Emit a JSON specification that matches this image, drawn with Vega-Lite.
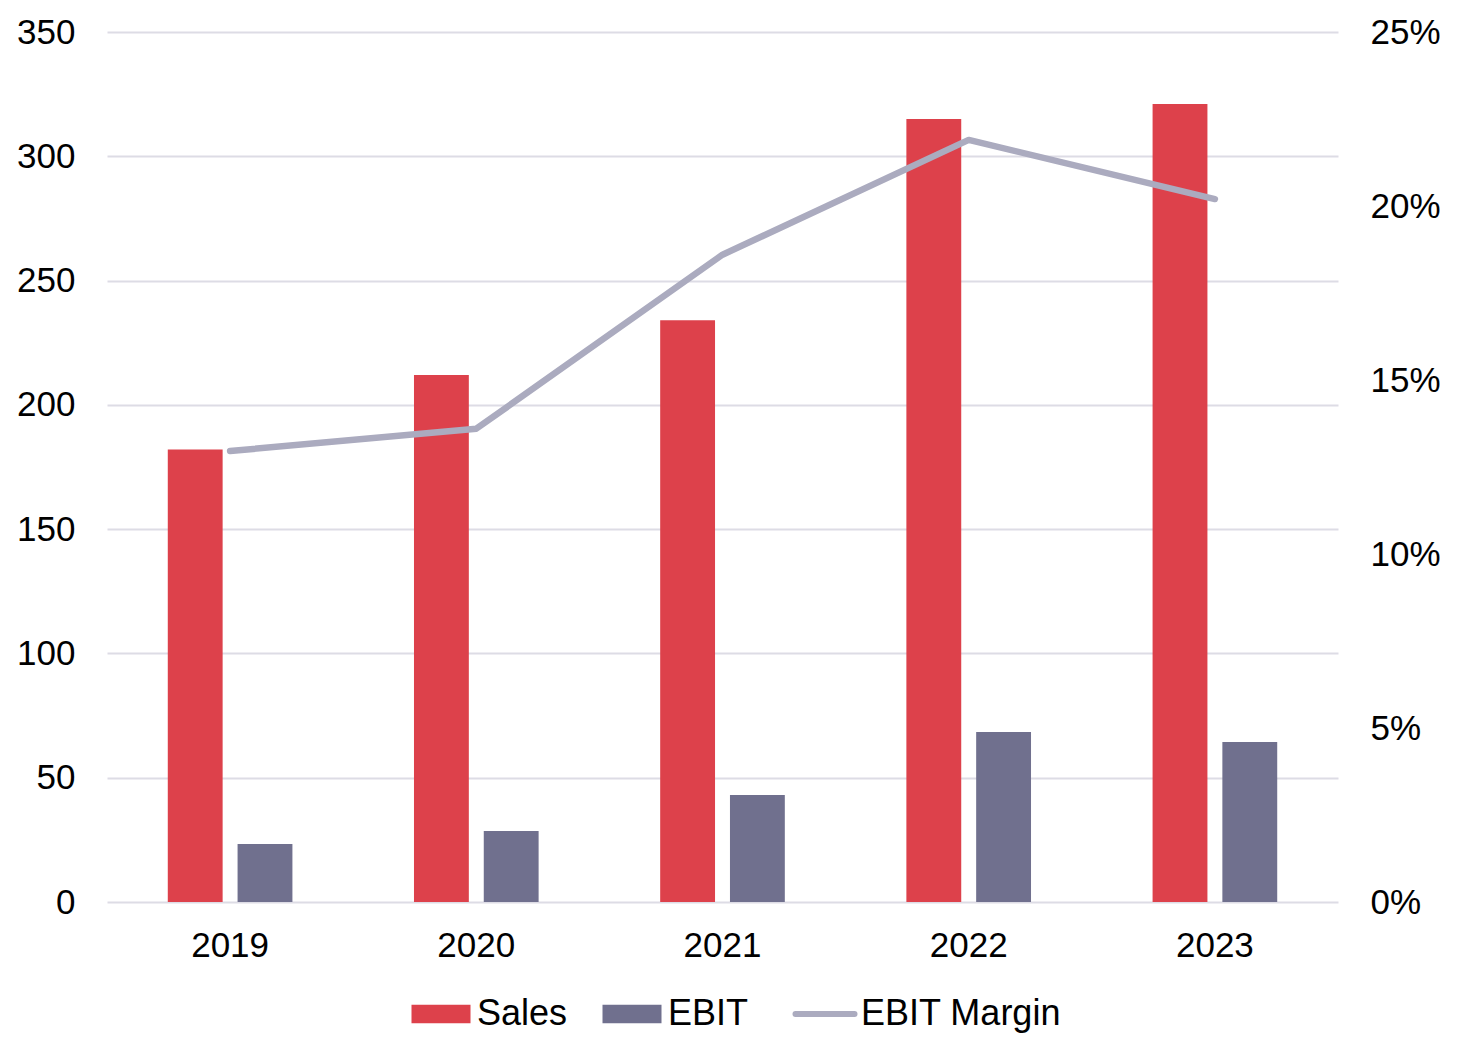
{
  "$schema": "https://vega.github.io/schema/vega-lite/v6.json",
  "autosize": {"type": "none"},
  "width": 1231,
  "height": 870,
  "padding": {"left": 107, "top": 32, "right": 120, "bottom": 157},
  "background": "white",
  "config": {
    "view": {"stroke": null},
    "font": "Liberation Sans",
    "axis": {"labelFont": "Liberation Sans", "labelFontSize": 35, "labelColor": "#000000", "domain": false, "ticks": false, "title": null},
    "legend": {"labelFont": "Liberation Sans", "labelFontSize": 36, "labelColor": "#000000", "labelLimit": 400}
  },
  "data": {
    "values": [
      {"year": "2019", "measure": "Sales", "value": 182},
      {"year": "2020", "measure": "Sales", "value": 212},
      {"year": "2021", "measure": "Sales", "value": 234},
      {"year": "2022", "measure": "Sales", "value": 315},
      {"year": "2023", "measure": "Sales", "value": 321},
      {"year": "2019", "measure": "EBIT", "value": 23.3},
      {"year": "2020", "measure": "EBIT", "value": 28.6},
      {"year": "2021", "measure": "EBIT", "value": 43.0},
      {"year": "2022", "measure": "EBIT", "value": 68.4},
      {"year": "2023", "measure": "EBIT", "value": 64.4},
      {"year": "2019", "measure": "EBIT Margin", "value": 0.1296},
      {"year": "2020", "measure": "EBIT Margin", "value": 0.136},
      {"year": "2021", "measure": "EBIT Margin", "value": 0.186},
      {"year": "2022", "measure": "EBIT Margin", "value": 0.219},
      {"year": "2023", "measure": "EBIT Margin", "value": 0.202}
    ]
  },
  "encoding": {
    "x": {
      "field": "year",
      "type": "nominal",
      "scale": {"paddingInner": 0, "paddingOuter": 0},
      "axis": {"labelAngle": 0, "labelPadding": 26, "grid": false}
    }
  },
  "layer": [
    {
      "transform": [{"filter": "datum.measure !== 'EBIT Margin'"}],
      "mark": {"type": "bar"},
      "encoding": {
        "xOffset": {"field": "measure", "type": "nominal", "sort": ["Sales", "EBIT"], "scale": {"domain": ["Sales", "EBIT"], "paddingInner": 0.214, "paddingOuter": 0.871}},
        "y": {
          "field": "value",
          "type": "quantitative",
          "scale": {"domain": [0, 350], "nice": false},
          "axis": {"orient": "left", "values": [0, 50, 100, 150, 200, 250, 300, 350], "grid": true, "gridColor": "#DDDCE5", "gridWidth": 2, "labelPadding": 32}
        },
        "color": {
          "field": "measure",
          "type": "nominal",
          "scale": {"domain": ["Sales", "EBIT", "EBIT Margin"], "range": ["#DD414B", "#70708E", "#ABABBF"]},
          "legend": {
            "title": null,
            "orient": "none",
            "direction": "horizontal",
            "legendX": 316,
            "legendY": 964,
            "columnPadding": 34,
            "labelOffset": 18,
            "symbolSize": 3481,
            "encode": {
              "symbols": {
                "update": {
                  "shape": {"signal": "datum.value === 'EBIT Margin' ? 'stroke' : 'M-1,-0.31H1V0.31H-1Z'"},
                  "size": {"value": 3481},
                  "fill": {"signal": "datum.value === 'EBIT Margin' ? 'transparent' : scale('color', datum.value)"},
                  "stroke": {"signal": "scale('color', datum.value)"},
                  "strokeWidth": {"signal": "datum.value === 'EBIT Margin' ? 6 : 0"},
                  "strokeCap": {"value": "round"},
                  "opacity": {"value": 1}
                }
              }
            }
          }
        }
      }
    },
    {
      "transform": [{"filter": "datum.measure === 'EBIT Margin'"}],
      "mark": {"type": "line", "strokeWidth": 6.5, "strokeCap": "round", "strokeJoin": "round"},
      "encoding": {
        "y": {
          "field": "value",
          "type": "quantitative",
          "scale": {"domain": [0, 0.25], "nice": false},
          "axis": {"orient": "right", "values": [0, 0.05, 0.1, 0.15, 0.2, 0.25], "format": ".0%", "grid": false, "labelPadding": 32}
        },
        "color": {"field": "measure", "type": "nominal"}
      }
    }
  ],
  "resolve": {"scale": {"y": "independent"}}
}
